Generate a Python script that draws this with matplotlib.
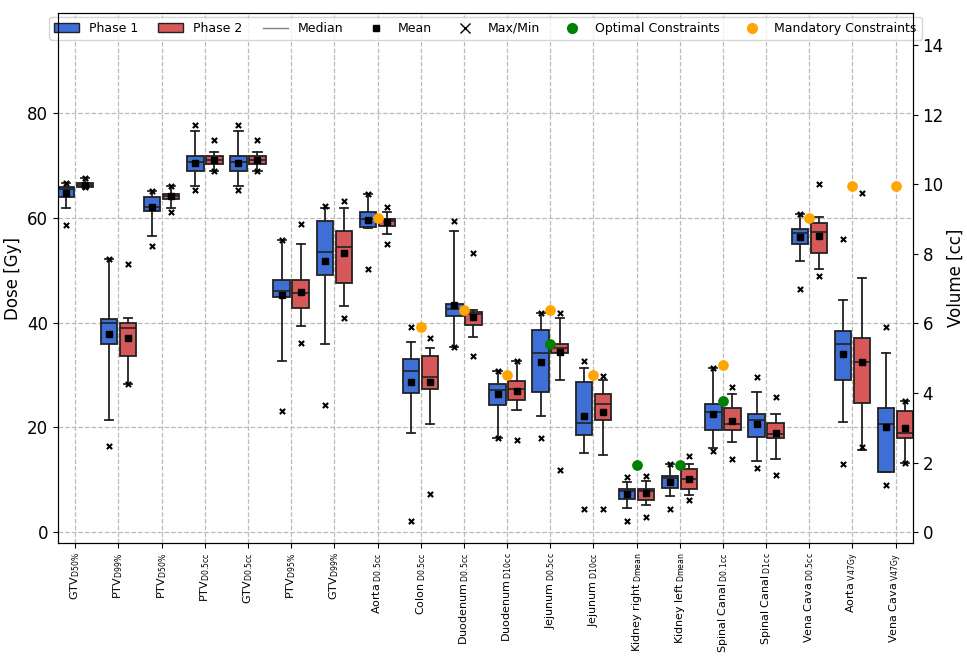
import numpy as np
import matplotlib.pyplot as plt
from matplotlib.lines import Line2D
from matplotlib.patches import Patch

labels = [r'GTV$_{\mathrm{D50\%}}$', r'PTV$_{\mathrm{D99\%}}$', r'PTV$_{\mathrm{D50\%}}$',
          r'PTV$_{\mathrm{D0.5cc}}$', r'GTV$_{\mathrm{D0.5cc}}$', r'PTV$_{\mathrm{D95\%}}$',
          r'GTV$_{\mathrm{D99\%}}$', r'Aorta$_{\mathrm{\ D0.5cc}}$', r'Colon$_{\mathrm{\ D0.5cc}}$',
          r'Duodenum$_{\mathrm{\ D0.5cc}}$', r'Duodenum$_{\mathrm{\ D10cc}}$', r'Jejunum$_{\mathrm{\ D0.5cc}}$',
          r'Jejunum$_{\mathrm{\ D10cc}}$', r'Kidney right$_{\mathrm{\ Dmean}}$', r'Kidney left$_{\mathrm{\ Dmean}}$',
          r'Spinal Canal$_{\mathrm{\ D0.1cc}}$', r'Spinal Canal$_{\mathrm{\ D1cc}}$', r'Vena Cava$_{\mathrm{\ D0.5cc}}$',
          r'Aorta$_{\mathrm{\ V47Gy}}$', r'Vena Cava$_{\mathrm{\ V47Gy}}$']

# columns: whislo, q1, med, q3, whishi, mean, min, max
p1 = [
    [61.9, 64.0, 65.5, 65.9, 66.6, 64.7, 58.6, 66.6],
    [21.4, 36.0, 39.9, 40.7, 52.2, 37.9, 16.5, 52.2],
    [56.5, 61.2, 62.1, 63.9, 65.1, 62.0, 54.7, 65.1],
    [66.0, 69.0, 70.7, 71.7, 76.6, 70.5, 65.3, 77.7],
    [66.0, 69.0, 70.7, 71.7, 76.6, 70.5, 65.3, 77.7],
    [32.7, 44.8, 46.1, 48.2, 55.7, 45.2, 23.1, 55.7],
    [35.9, 49.1, 53.5, 59.4, 61.8, 51.7, 24.2, 62.2],
    [58.1, 58.2, 59.8, 61.1, 64.5, 59.6, 50.2, 64.5],
    [19.0, 26.6, 30.8, 33.0, 36.3, 28.7, 2.1, 39.2],
    [35.4, 41.3, 42.6, 43.6, 57.5, 43.4, 35.4, 59.4],
    [17.9, 24.3, 27.1, 28.3, 30.8, 26.3, 17.9, 30.8],
    [22.1, 26.8, 34.2, 38.6, 41.9, 32.5, 18.0, 41.9],
    [15.2, 18.6, 20.9, 28.7, 31.3, 22.1, 4.4, 32.7],
    [4.6, 6.3, 7.9, 8.3, 9.6, 7.3, 2.2, 10.5],
    [6.9, 8.4, 10.3, 10.8, 13.1, 9.6, 4.4, 13.1],
    [16.0, 19.5, 22.9, 24.4, 31.3, 22.6, 15.5, 31.3],
    [13.7, 18.2, 21.4, 22.6, 26.8, 20.7, 12.3, 29.6],
    [51.8, 55.0, 57.1, 57.9, 60.8, 56.4, 46.4, 60.8],
    [21.1, 29.1, 36.0, 38.4, 44.4, 34.1, 13.0, 55.9],
    [11.6, 11.6, 20.6, 23.8, 34.2, 20.1, 9.1, 39.1],
]
p2 = [
    [65.8, 65.9, 66.3, 66.6, 67.5, 66.3, 65.8, 67.5],
    [28.3, 33.6, 38.9, 39.9, 40.8, 37.1, 28.3, 51.2],
    [61.9, 63.5, 64.1, 64.6, 66.0, 64.1, 61.0, 66.0],
    [69.0, 70.3, 71.1, 71.7, 72.5, 71.0, 69.0, 74.8],
    [69.0, 70.3, 71.1, 71.7, 72.5, 71.0, 69.0, 74.8],
    [39.4, 42.7, 45.6, 48.2, 55.0, 45.8, 36.1, 58.9],
    [43.1, 47.5, 54.5, 57.4, 61.9, 53.2, 40.9, 63.1],
    [56.9, 58.5, 59.3, 59.8, 61.1, 59.1, 55.0, 62.1],
    [20.6, 27.3, 29.7, 33.6, 35.1, 28.7, 7.3, 37.0],
    [37.3, 39.6, 41.6, 42.1, 42.4, 41.1, 33.6, 53.2],
    [23.4, 25.3, 27.3, 28.9, 32.7, 26.9, 17.7, 32.7],
    [29.1, 34.2, 35.2, 36.0, 40.8, 34.4, 11.8, 41.9],
    [14.7, 21.4, 24.4, 26.3, 29.0, 22.9, 4.4, 29.8],
    [5.2, 6.1, 7.8, 8.3, 9.8, 7.5, 2.9, 10.8],
    [7.1, 8.3, 10.1, 12.0, 13.0, 10.2, 6.1, 14.5],
    [17.2, 19.6, 20.6, 23.8, 26.3, 21.3, 14.0, 27.8],
    [13.9, 17.9, 18.7, 20.9, 22.5, 19.0, 11.0, 25.9],
    [50.2, 53.2, 57.3, 59.0, 60.2, 56.5, 48.9, 66.5],
    [15.8, 24.6, 32.5, 37.1, 48.5, 32.5, 16.2, 64.8],
    [13.2, 17.9, 18.9, 23.1, 25.1, 19.9, 13.2, 25.1],
]
optimal = {11: 36.0, 13: 12.8, 14: 12.8, 15: 25.0}
mandatory = {7: 59.9, 8: 39.2, 9: 42.4, 10: 30.0, 11: 42.4, 12: 30.0, 15: 32.0, 17: 60.0, 18: 66.0, 19: 66.0}

blue = '#3d6fd6'
red = '#d65858'


def to_stats(rows):
    return [dict(whislo=r[0], q1=r[1], med=r[2], q3=r[3], whishi=r[4], mean=r[5], fliers=[]) for r in rows]


fig = plt.figure(figsize=(9.67, 6.62), dpi=100)
ax = fig.add_axes([0.06, 0.18, 0.884, 0.80])
x = np.arange(len(labels))
off = 0.22
for rows, color, d in [(p1, blue, -off), (p2, red, off)]:
    ax.bxp(to_stats(rows), positions=x + d, widths=0.38, patch_artist=True, showmeans=True,
           boxprops=dict(facecolor=color, edgecolor='#222222', linewidth=1.3),
           medianprops=dict(color='#222222', linewidth=1.2),
           whiskerprops=dict(color='#222222', linewidth=1.3),
           capprops=dict(color='#222222', linewidth=1.3),
           meanprops=dict(marker='s', markerfacecolor='black', markeredgecolor='black', markersize=5))
    arr = np.array(rows)
    ax.scatter(x + d, arr[:, 6], marker='x', color='black', s=14, linewidths=1.5, zorder=4)
    ax.scatter(x + d, arr[:, 7], marker='x', color='black', s=14, linewidths=1.5, zorder=4)

ax.scatter(list(optimal.keys()), list(optimal.values()), color='green', s=45, zorder=5)
ax.scatter(list(mandatory.keys()), list(mandatory.values()), color='orange', s=45, zorder=5)

ax.set_xticks(x)
ax.set_xticklabels(labels, rotation=90, fontsize=8)
ax.set_xlim(-0.4, len(labels) - 0.6)
ax.set_ylim(-2, 99)
ax.set_yticks([0, 20, 40, 60, 80])
ax.set_ylabel('Dose [Gy]', fontsize=12)
ax.tick_params(axis='y', labelsize=12)
ax.grid(True, linestyle='--', color='#bbbbbb', linewidth=0.9)
ax.set_axisbelow(True)

ax2 = ax.twinx()
ax2.set_ylim(-2 / 6.64, 99 / 6.64)
ax2.set_yticks(range(0, 15, 2))
ax2.set_ylabel('Volume [cc]', fontsize=12, labelpad=2)
ax2.tick_params(axis='y', labelsize=12)

handles = [Patch(facecolor=blue, edgecolor='#222222', label='Phase 1'),
           Patch(facecolor=red, edgecolor='#222222', label='Phase 2'),
           Line2D([], [], color='gray', lw=1, label='Median'),
           Line2D([], [], marker='s', color='black', ls='', markersize=5, label='Mean'),
           Line2D([], [], marker='x', color='black', ls='', markersize=7, label='Max/Min'),
           Line2D([], [], marker='o', color='green', ls='', markersize=7, label='Optimal Constraints'),
           Line2D([], [], marker='o', color='orange', ls='', markersize=7, label='Mandatory Constraints')]
ax.legend(handles=handles, loc='upper center', ncol=7, fontsize=9, columnspacing=1.6,
          handletextpad=0.8, bbox_to_anchor=(0.5, 1.0), borderaxespad=0.3)

fig.savefig('out.png', dpi=100)
